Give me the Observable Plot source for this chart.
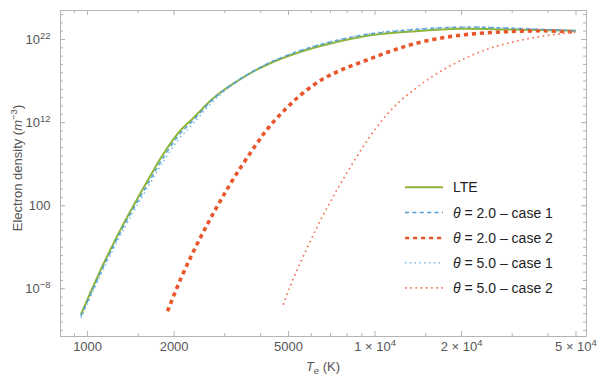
<!DOCTYPE html>
<html><head><meta charset="utf-8">
<script src="https://cdn.jsdelivr.net/npm/d3@7"></script>
<script src="https://cdn.jsdelivr.net/npm/@observablehq/plot@0.6"></script>
<style>
html,body{margin:0;padding:0;background:#fff;}
#chart{width:598px;height:378px;}
</style></head><body><div id="chart"></div>
<script>
// Electron temperature grid (K) and log10 of electron density (m^-3)
const lteT   = [948, 1142, 1341, 1532, 1660, 1798, 2055, 2348, 2754, 3412, 4279, 5588, 7295, 9524, 13840, 19840, 29600, 50000];
const lteExp = [-11.09, -4.84, -0.02, 3.59, 5.69, 7.74, 10.65, 12.65, 15.02, 17.27, 19.08, 20.59, 21.68, 22.48, 23.0, 23.29, 23.2, 23.05];

const th2c1T   = [948, 1142, 1341, 1532, 1660, 1798, 2055, 2348, 2754, 3412, 4279, 5588, 7295, 9524, 13840, 19840, 29600, 50000];
const th2c1Exp = [-11.29, -5.14, -0.32, 3.19, 5.24, 7.29, 10.3, 12.4, 14.92, 17.3, 19.18, 20.74, 21.85, 22.65, 23.2, 23.49, 23.35, 23.05];

const th2c2T   = [1897, 2110, 2348, 2614, 2906, 3278, 3846, 4279, 4891, 5588, 6560, 7697, 9276, 11180, 13480, 17360, 22680, 29600, 38650, 50000];
const th2c2Exp = [-10.7, -6.78, -3.34, -0.2, 2.67, 5.69, 9.3, 11.47, 13.66, 15.5, 17.21, 18.39, 19.47, 20.52, 21.42, 22.24, 22.72, 22.96, 23.05, 22.9];

const th5c1T   = [948, 1142, 1341, 1532, 1660, 1798, 2055, 2348, 2754, 3412, 4279, 5588, 7295, 9524, 13840, 19840, 29600, 50000];
const th5c1Exp = [-11.49, -5.44, -0.72, 2.79, 4.84, 6.84, 9.8, 12.0, 14.67, 17.22, 19.2, 20.79, 21.9, 22.7, 23.25, 23.51, 23.4, 23.05];

const th5c2T   = [4794, 5020, 5370, 5740, 6217, 6644, 7107, 7697, 8561, 9524, 10600, 12110, 13840, 15200, 17360, 19840, 22680, 25910, 29600, 33840, 38650, 44180, 50000];
const th5c2Exp = [-9.91, -8.02, -5.65, -3.45, -0.92, 1.06, 2.93, 5.03, 7.68, 10.15, 12.31, 14.48, 16.1, 17.13, 18.41, 19.47, 20.38, 21.1, 21.64, 22.08, 22.42, 22.69, 22.89];

const seriesLabels = ["LTE", "θ = 2.0 – case 1", "θ = 2.0 – case 2", "θ = 5.0 – case 1", "θ = 5.0 – case 2"];

const xMajor = [1000, 2000, 5000, 10000, 20000, 50000];
const xMajorLabels = ["1000", "2000", "5000", "1 × 10^4", "2 × 10^4", "5 × 10^4"];
const xMinor = [900, 1500, 3000, 4000, 6000, 7000, 8000, 9000, 15000, 30000, 40000];
const yMajor = [1e-8, 1e2, 1e12, 1e22];
const yMajorLabels = ["10^\u22128", "100", "10^12", "10^22"];
const yMinor = d3.range(-13, 26).map(e => 10 ** e);

// styles
const colors = ["#8db53c", "#4e9bd6", "#e8572b", "#6fb3e4", "#f07a5c"];
const widths = [2, 1.4, 3.6, 1.4, 1.7];
const dashes = [null, "4,3.4", "4.2,3.8", "1.4,3.4", "1.7,3.5"];
const frameColor = "#b4b4b4";

const W = 598, H = 378, mL = 60, mR = 12, mT = 10, mB = 42;
const plotW = W - mL - mR, plotH = H - mT - mB;

const rows = (T, E) => T.map((t, i) => ({T: t, n: 10 ** E[i]}));
const datasets = [rows(lteT, lteExp), rows(th2c1T, th2c1Exp), rows(th2c2T, th2c2Exp), rows(th5c1T, th5c1Exp), rows(th5c2T, th5c2Exp)];

const chart = Plot.plot({
  width: W, height: H,
  marginLeft: mL, marginRight: mR, marginTop: mT, marginBottom: mB,
  style: {fontFamily: "'Liberation Sans', Arial, sans-serif", fontSize: "13px", color: "#555", background: "#fff"},
  x: {type: "log", domain: [805, 54400], axis: null},
  y: {type: "log", domain: [10 ** -13.74, 10 ** 25.49], axis: null},
  marks: [
    // tick marks on all four sides (inside)
    Plot.tickX(xMajor, {stroke: frameColor, insetTop: plotH - 5}),
    Plot.tickX(xMinor, {stroke: frameColor, insetTop: plotH - 3}),
    Plot.tickX(xMajor, {stroke: frameColor, insetBottom: plotH - 5}),
    Plot.tickX(xMinor, {stroke: frameColor, insetBottom: plotH - 3}),
    Plot.tickY(yMajor, {stroke: frameColor, insetRight: plotW - 5}),
    Plot.tickY(yMinor, {stroke: frameColor, insetRight: plotW - 3}),
    Plot.tickY(yMajor, {stroke: frameColor, insetLeft: plotW - 5}),
    Plot.tickY(yMinor, {stroke: frameColor, insetLeft: plotW - 3}),
    Plot.axisX({ticks: xMajor, tickFormat: d => xMajorLabels[xMajor.indexOf(d)], tickSize: 0, tickPadding: 5, label: null, anchor: "bottom"}),
    Plot.axisY({ticks: yMajor, tickFormat: d => yMajorLabels[yMajor.indexOf(d)], tickSize: 0, tickPadding: 10, label: null, anchor: "left"}),
    Plot.frame({stroke: frameColor}),
    ...datasets.map((d, i) => Plot.line(d, {
      x: "T", y: "n", stroke: colors[i], strokeWidth: widths[i],
      strokeDasharray: dashes[i], strokeLinecap: "butt", curve: "catmull-rom"
    }))
  ]
});

// superscripts in tick labels
d3.select(chart).selectAll("text").each(function () {
  const t = this.textContent;
  if (!t.includes("^")) return;
  const [base, sup] = t.split("^");
  const s = d3.select(this);
  s.text(null);
  s.append("tspan").text(base);
  s.append("tspan").attr("dy", "-5").attr("font-size", "9.5px").text(sup);
});

const svg = d3.select(chart);
const font = "'Liberation Sans', Arial, sans-serif";

// y-axis title
const yl = svg.append("text")
  .attr("transform", "translate(21.5,168) rotate(-90)")
  .attr("text-anchor", "middle").attr("font-family", font).attr("font-size", 13).attr("fill", "#555");
yl.append("tspan").text("Electron density (");
yl.append("tspan").attr("font-style", "italic").text("m");
yl.append("tspan").attr("dy", -5).attr("font-size", "9.5px").text("\u22123");
yl.append("tspan").attr("dy", 5).text(")");

// x-axis title
const xl = svg.append("text")
  .attr("x", mL + plotW / 2).attr("y", 371)
  .attr("text-anchor", "middle").attr("font-family", font).attr("font-size", 13).attr("fill", "#555");
xl.append("tspan").attr("font-style", "italic").text("T");
xl.append("tspan").attr("dy", 3).attr("font-size", "9.5px").attr("font-style", "italic").text("e");
xl.append("tspan").attr("dy", -3).text(" (K)");

// legend
const lg = svg.append("g").attr("font-family", font).attr("font-size", 14).attr("fill", "#222").attr("text-anchor", "start");
const rowY = [187.3, 212.5, 238, 262.8, 287.8];
seriesLabels.forEach((lab, i) => {
  lg.append("line").attr("x1", 405).attr("x2", 443).attr("y1", rowY[i]).attr("y2", rowY[i])
    .attr("stroke", colors[i]).attr("stroke-width", Math.min(widths[i], 2.6))
    .attr("stroke-dasharray", dashes[i]);
  const t = lg.append("text").attr("x", 453).attr("y", rowY[i] + 5);
  if (lab.startsWith("θ")) {
    t.append("tspan").attr("font-style", "italic").text("θ");
    t.append("tspan").text(lab.slice(1));
  } else t.text(lab);
});

document.getElementById("chart").appendChild(chart);
</script>
</body></html>
